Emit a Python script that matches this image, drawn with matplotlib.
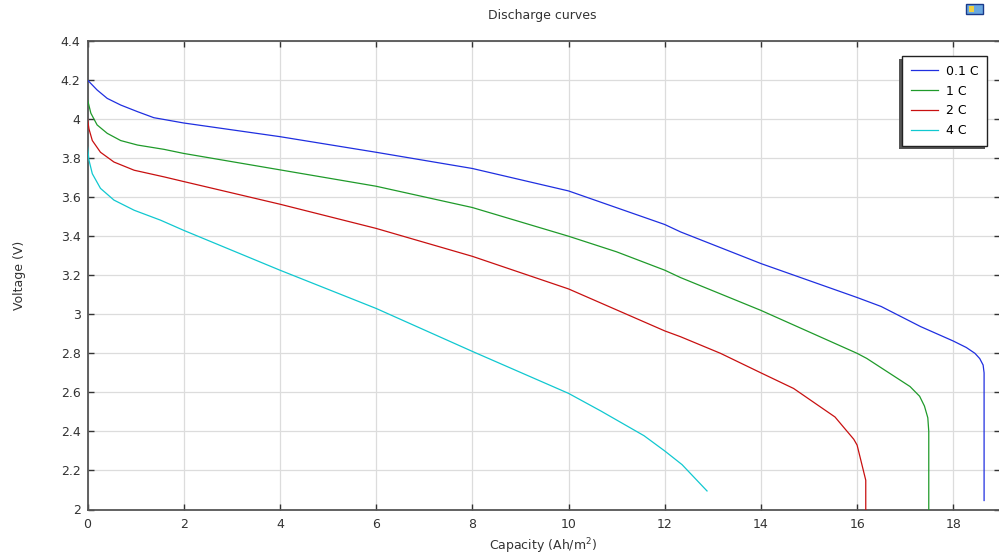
import matplotlib
matplotlib.use("Agg")
import matplotlib.pyplot as plt
from matplotlib.patches import Rectangle
from matplotlib.transforms import IdentityTransform

# ---- data ----
labels = ["0.1 C", "1 C", "2 C", "4 C"]

cap_01 = [0, 0.20, 0.41, 0.69, 1.04, 1.38, 1.59, 2, 4, 6, 8, 10, 12, 12.33, 14, 16,
          16.5, 17.32, 18.0, 18.27, 18.45, 18.55, 18.62, 18.64, 18.64]
v_01 = [4.20, 4.149, 4.106, 4.072, 4.038, 4.007, 3.998, 3.98, 3.91, 3.83, 3.747,
        3.632, 3.46, 3.422, 3.26, 3.086, 3.04, 2.937, 2.863, 2.83, 2.80, 2.773,
        2.74, 2.70, 2.046]

cap_1 = [0, 0.07, 0.20, 0.41, 0.69, 1.04, 1.59, 2, 4, 6, 8, 10, 11, 12, 12.33, 14,
         16, 16.2, 17.1, 17.3, 17.40, 17.47, 17.49, 17.49]
v_1 = [4.10, 4.03, 3.97, 3.927, 3.89, 3.867, 3.845, 3.824, 3.74, 3.656, 3.547,
       3.40, 3.32, 3.226, 3.188, 3.02, 2.80, 2.774, 2.63, 2.58, 2.53, 2.47, 2.40,
       2.00]

cap_2 = [0, 0.03, 0.10, 0.27, 0.55, 0.97, 1.59, 2, 4, 6, 8, 10, 12, 12.33, 13.16,
         14, 14.68, 15.54, 15.93, 16.0, 16.15, 16.18, 16.18]
v_2 = [4.00, 3.95, 3.89, 3.83, 3.78, 3.738, 3.704, 3.68, 3.564, 3.44, 3.297, 3.13,
       2.915, 2.885, 2.80, 2.70, 2.62, 2.474, 2.36, 2.33, 2.18, 2.15, 2.00]

cap_4 = [0, 0.03, 0.10, 0.27, 0.55, 0.97, 1.52, 2, 4, 6, 8, 10, 10.67, 11.57, 12,
         12.36, 12.88]
v_4 = [3.858, 3.79, 3.72, 3.645, 3.585, 3.533, 3.482, 3.43, 3.226, 3.03, 2.81,
       2.595, 2.505, 2.378, 2.30, 2.23, 2.095]

x_ticks = [0, 2, 4, 6, 8, 10, 12, 14, 16, 18]
x_tick_labels = ["0", "2", "4", "6", "8", "10", "12", "14", "16", "18"]
y_ticks = [2.0, 2.2, 2.4, 2.6, 2.8, 3.0, 3.2, 3.4, 3.6, 3.8, 4.0, 4.2, 4.4]
y_tick_labels = ["2", "2.2", "2.4", "2.6", "2.8", "3", "3.2", "3.4", "3.6",
                 "3.8", "4", "4.2", "4.4"]

colors = ["#1f2fe0", "#1f9a2a", "#c81010", "#10c8d0"]

W, H = 999, 557
fig = plt.figure(figsize=(W / 100, H / 100), dpi=100)
plt.rcParams['font.family'] = ['DejaVu Sans']

left_px, right_px, top_px, bot_px = 87.5, 999.5, 41, 509.5
ax = fig.add_axes([left_px / W, 1 - bot_px / H,
                   (right_px - left_px) / W, (bot_px - top_px) / H])

series = [(cap_01, v_01), (cap_1, v_1), (cap_2, v_2), (cap_4, v_4)]
for (cx, cy), lab, col in zip(series, labels, colors):
    ax.plot(cx, cy, color=col, lw=0.9, label=lab, zorder=3)

ax.set_xlim(0, (right_px - left_px) / 48.1)
ax.set_ylim(2.0, 4.4)
ax.set_xticks(x_ticks)
ax.set_xticklabels(x_tick_labels)
ax.set_yticks(y_ticks)
ax.set_yticklabels(y_tick_labels)

ax.grid(True, color="#dcdcdc", lw=0.9, zorder=0)
ax.set_axisbelow(True)

for s in ["left", "bottom", "top"]:
    ax.spines[s].set_color("#555555")
    ax.spines[s].set_linewidth(1.3)
ax.spines["right"].set_visible(False)

ax.tick_params(axis="both", direction="in", length=4.5, width=1.0,
               color="#333333", labelsize=9, labelcolor="#333333",
               top=True, right=True)
ax.tick_params(axis="x", pad=6)
ax.tick_params(axis="y", pad=5)

ax.set_xlabel("Capacity (Ah/m$^2$)", fontsize=9, color="#333333", labelpad=4)
ax.set_ylabel("Voltage (V)", fontsize=9, color="#333333", labelpad=25)
fig.text(542.5 / W, 1 - 15 / H, "Discharge curves", ha="center", va="center",
         fontsize=9, color="#333333")

leg = ax.legend(loc="upper right", bbox_to_anchor=(987 / W, 1 - 56 / H),
                bbox_transform=fig.transFigure, borderaxespad=0,
                fancybox=False, frameon=True, fontsize=9,
                handlelength=2.2, handletextpad=0.6, labelspacing=0.55,
                borderpad=0.7)
leg.get_frame().set_edgecolor("#222222")
leg.get_frame().set_linewidth(1.0)
leg.get_frame().set_facecolor("white")
leg.get_frame().set_alpha(1.0)
leg.set_zorder(6)

fig.canvas.draw()
bb = leg.get_window_extent()
shadow = Rectangle((bb.x0 - 2.5, bb.y0 - 2.5), bb.width, bb.height,
                   transform=IdentityTransform(), facecolor="#555555",
                   edgecolor="none", zorder=5.5, clip_on=False)
ax.add_patch(shadow)

# small toolbar icon in the top-right corner
icon = Rectangle((966 / W, 1 - 14 / H), 17 / W, 10 / H, transform=fig.transFigure,
                 facecolor="#6aa8e0", edgecolor="#1a3a8a", lw=1.0)
fig.patches.append(icon)
icon2 = Rectangle((969 / W, 1 - 12 / H), 5 / W, 6 / H, transform=fig.transFigure,
                  facecolor="#f0d040", edgecolor="none")
fig.patches.append(icon2)

fig.savefig("out.png", dpi=100)
